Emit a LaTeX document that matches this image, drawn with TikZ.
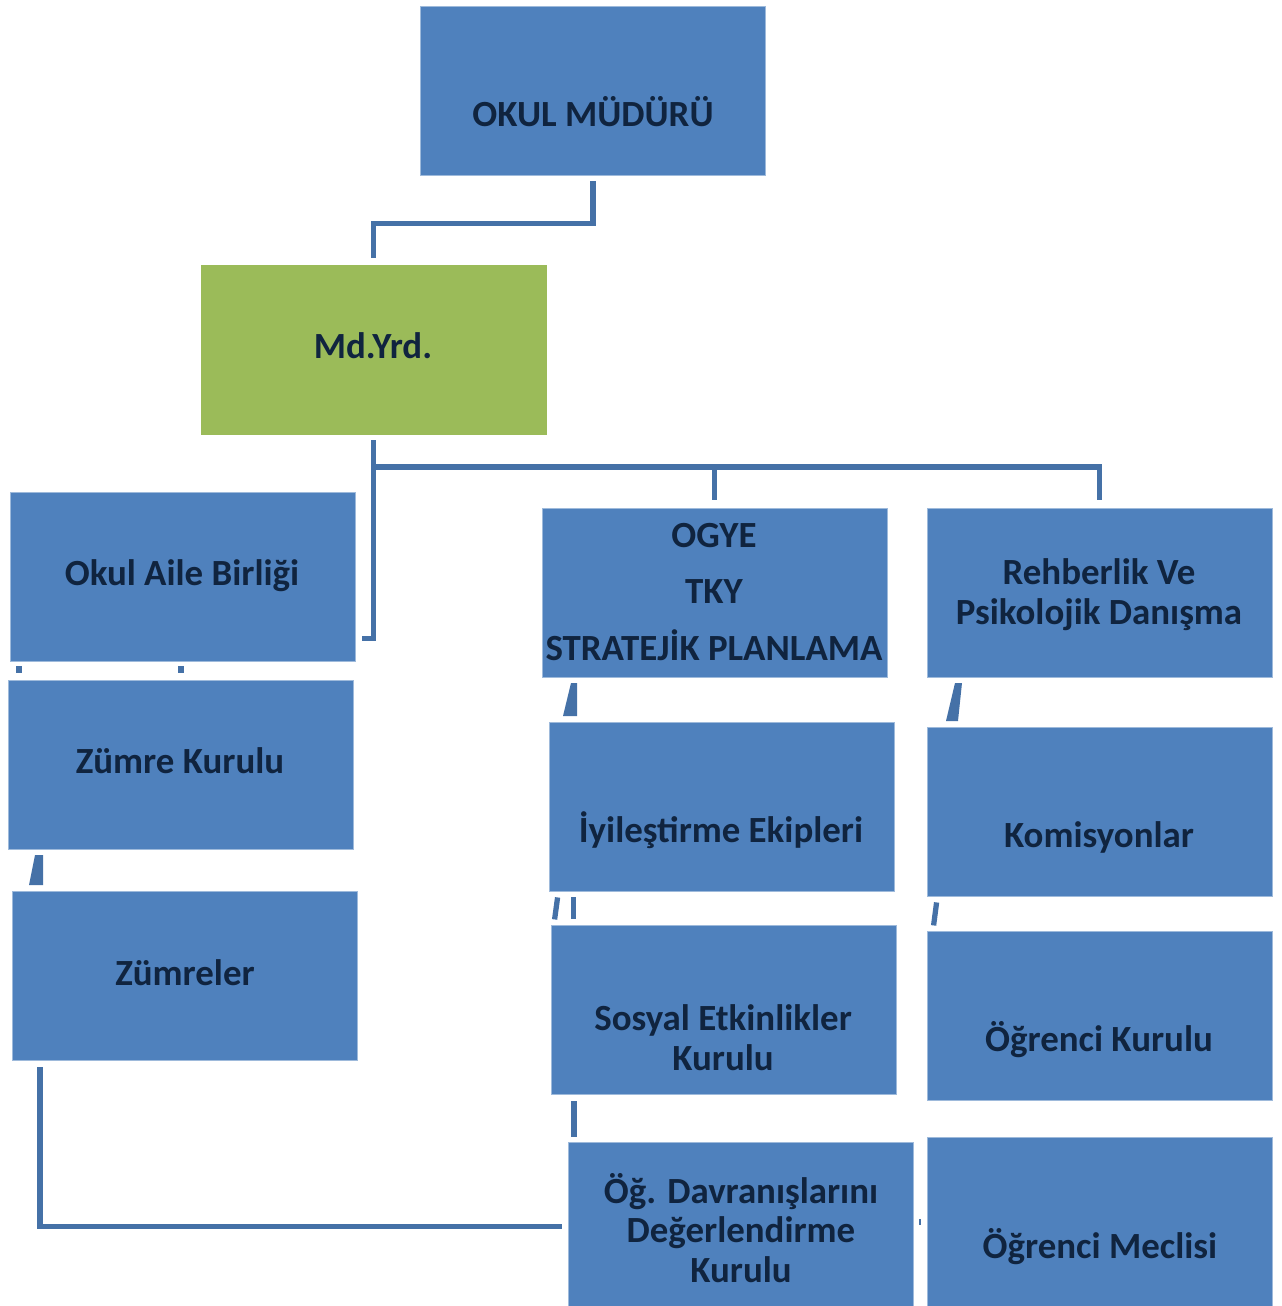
\documentclass[tikz,border=0pt]{standalone}
\usepackage{fontspec}
\setmainfont{Carlito}
\usetikzlibrary{calc}
\definecolor{boxblue}{HTML}{4F81BD}
\definecolor{boxgreen}{HTML}{9BBB59}
\definecolor{txtnavy}{HTML}{10243F}
\definecolor{linkblue}{HTML}{4571A7}

\begin{document}
\begin{tikzpicture}[x=0.02cm,y=-0.02cm,
  box/.style={fill=boxblue,draw=boxblue!55!white,line width=.5pt,minimum width=6.9cm,minimum height=3.38cm,inner sep=0pt},
  txt/.style={text=txtnavy,font=\bfseries\fontsize{21}{22.7}\selectfont,align=center,inner sep=0pt},
  one/.style={txt,text height=12.5pt,text depth=0pt},
  link/.style={draw=linkblue,line width=3pt}]
  \useasboundingbox (0,0) rectangle (1282,1306);

  % boxes
  \node[box] (mudur) at (593,90.5) {};
  \node[box,fill=boxgreen,draw=boxgreen] (myrd) at (373.5,349.5) {};
  \node[box] (aile) at (183,576.5) {};
  \node[box] (zkurul) at (181,764.5) {};
  \node[box] (zumreler) at (185,975.5) {};
  \node[box] (ogye) at (714.5,592.5) {};
  \node[box] (rehber) at (1099.5,592.5) {};
  \node[box] (iyile) at (721.5,806.5) {};
  \node[box] (sosyal) at (724,1009.5) {};
  \node[box] (ogdav) at (740.5,1226.5) {};
  \node[box] (komis) at (1099.5,811.5) {};
  \node[box] (ogrk) at (1099.5,1015.5) {};
  \node[box] (meclis) at (1099.5,1221.5) {};

  % texts
  \node[one] (mudurT) at (593,116) {OKUL MÜDÜRÜ};
  \node[one] (myrdT) at (373,348) {Md.Yrd.};
  \node[one] (aileT) at (182,575) {Okul Aile Birliği};
  \node[one] (zkurulT) at (180,763) {Zümre Kurulu};
  \node[one] (zumrelerT) at (185,975) {Zümreler};
  \node[txt,font=\bfseries\fontsize{21}{32}\selectfont] (ogyeT) at (714,592) {OGYE\\TKY\\STRATEJİK PLANLAMA};
  \node[txt] (rehberT) at (1099,595) {Rehberlik Ve\\Psikolojik Danışma};
  \node[one] (iyileT) at (721,832) {İyileştirme Ekipleri};
  \node[txt] (sosyalT) at (723,1038) {Sosyal Etkinlikler\\Kurulu};
  \node[txt] (ogdavT) at (741,1228) {Öğ. Davranışlarını\\Değerlendirme\\Kurulu};
  \node[one] (komisT) at (1099,837) {Komisyonlar};
  \node[one] (ogrkT) at (1099,1041) {Öğrenci Kurulu};
  \node[one] (meclisT) at (1100,1248) {Öğrenci Meclisi};

  % connectors
  \draw[link] ($(mudur.south)+(0,6)$) |- ($(myrd.north)+(0,-41)$) -- ($(myrd.north)+(0,-7)$);
  \draw[link] ($(myrd.south)+(0,6)$) -- (myrd.south |- 0,467) -| ($(rehber.north)+(0,-8)$);
  \draw[link] (ogye.north |- 0,467) -- ($(ogye.north)+(0,-8)$);
  \draw[link] (myrd.south |- 0,467) |- ($(aile.east)+(6,62)$);
  \draw[link] ($(zumreler.south west)+(28,7)$) |- ($(ogdav.west)+(-6,0)$);

  % broken pieces
  \draw[link] ($(aile.south west)+(9,5)$) -- ($(aile.south west)+(9,12)$);
  \draw[link] ($(aile.south)+(-2,5)$) -- ($(aile.south)+(-2,12)$);
  \fill[linkblue] (29,885) -- (43,885) -- (43,855) -- (35,855) -- cycle;
  \fill[linkblue] (563,716) -- (577,716) -- (577,683) -- (571,683) -- cycle;
  \fill[linkblue] (946,721) -- (958,721) -- (962,683) -- (955,683) -- cycle;
  \draw[link] ($(iyile.south west)+(9,6)$) -- ($(iyile.south west)+(6,28)$);
  \draw[link] ($(iyile.south west)+(25,6)$) -- ($(iyile.south west)+(25,28)$);
  \draw[link] ($(komis.south west)+(10,6)$) -- ($(komis.south west)+(7,29)$);
  \draw[link] ($(sosyal.south west)+(23,7)$) -- ($(sosyal.south west)+(23,43)$);
  \draw[link,line width=1pt] (920,1219) -- (920,1225);
\end{tikzpicture}
\end{document}
